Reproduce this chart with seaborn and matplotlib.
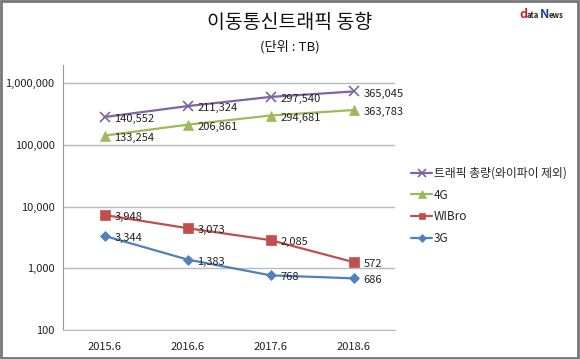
import numpy as np
import pandas as pd
import matplotlib
matplotlib.use("Agg")
import matplotlib.pyplot as plt
import seaborn as sns
from matplotlib.patches import Rectangle
from matplotlib.ticker import FixedLocator, FuncFormatter, NullLocator

# 데이터 (단위 : TB)
periodes = ["2015.6", "2016.6", "2017.6", "2018.6"]
val_3g = [3344, 1383, 768, 686]
val_wibro = [3948, 3073, 2085, 572]
val_4g = [133254, 206861, 294681, 363783]
val_total = [140552, 211324, 297540, 365045]

noms = ["3G", "WIBro", "4G", "트래픽 총량(와이파이 제외)"]
series = [val_3g, val_wibro, val_4g, val_total]
couleurs = ["#4F81BD", "#C0504D", "#9BBB59", "#8064A2"]
marqueurs = ["D", "s", "^", "x"]
tailles = [5.5, 6.5, 7, 7]

sns.set_style("white")
plt.rcParams['font.family'] = ['Noto Sans CJK KR', 'DejaVu Sans']

fig = plt.figure(figsize=(5.8, 3.59), dpi=100)
ax = fig.add_axes([63 / 580, 1 - 330 / 359, 332 / 580, 265 / 359])

x = np.arange(len(periodes))
# graphique en lignes empilées (comme dans Excel)
cumul = np.zeros(len(periodes))
for nom, vals, c, m, s in zip(noms, series, couleurs, marqueurs, tailles):
    cumul = cumul + np.array(vals)
    df = pd.DataFrame({"x": x, "y": cumul})
    sns.lineplot(data=df, x="x", y="y", ax=ax, color=c, marker=m, markersize=s,
                 markeredgecolor=c, markeredgewidth=1.2 if m == "x" else 0.5,
                 linewidth=1.6, label=nom)
    for xi, yi, v in zip(x, cumul, vals):
        ax.annotate(f"{v:,}", (xi, yi), xytext=(7, -1.5), textcoords="offset points",
                    fontsize=8, color="#222222", va="center", ha="left")

ax.set_yscale("log")
ax.set_ylim(100, 10 ** (6 + 18 / 61.75))
ax.set_xlim(-0.5, 3.5)
ax.yaxis.set_major_locator(FixedLocator([100, 1000, 10000, 100000, 1000000]))
ax.yaxis.set_minor_locator(NullLocator())
ax.yaxis.set_major_formatter(FuncFormatter(lambda v, p: f"{int(v):,}"))
ax.set_xticks(x)
ax.set_xticklabels(periodes)
ax.tick_params(axis="both", length=0, labelsize=8, colors="#222222")
ax.tick_params(axis="y", pad=6)
ax.tick_params(axis="x", pad=9)
ax.set_xlabel("")
ax.set_ylabel("")
ax.grid(axis="y", color="#BBBBBB", linewidth=1)
ax.grid(axis="x", visible=False)
for cote in ["top", "right"]:
    ax.spines[cote].set_visible(False)
ax.spines["left"].set_color("#999999")
ax.spines["bottom"].set_color("#BBBBBB")

# légende dans l'ordre inverse
h, l = ax.get_legend_handles_labels()
ax.legend(h[::-1], l[::-1], loc="center left", bbox_to_anchor=(411 / 580, 1 - 206 / 359),
          bbox_transform=fig.transFigure, frameon=False, fontsize=8.5, markerscale=0.75,
          handlelength=1.8, handletextpad=0.15, labelspacing=0.75, borderaxespad=0,
          borderpad=0)

fig.text(0.5, 1 - 22 / 359, "이동통신트래픽 동향", ha="center", va="center", fontsize=14, color="#111111")
fig.text(0.5, 1 - 47 / 359, "(단위 : TB)", ha="center", va="center", fontsize=9.5, color="#111111")

# logo dataNews
fig.text(519 / 580, 1 - 14 / 359, "d", ha="left", va="center", fontsize=9, color="#D0202A", fontweight="bold")
fig.text(527 / 580, 1 - 15 / 359, "ata", ha="left", va="center", fontsize=5.5, color="#222222", fontweight="bold")
fig.text(540 / 580, 1 - 14 / 359, "N", ha="left", va="center", fontsize=9, color="#1A3E8C", fontweight="bold")
fig.text(549 / 580, 1 - 15 / 359, "ews", ha="left", va="center", fontsize=5.5, color="#222222", fontweight="bold")

fig.patches.append(Rectangle((0.002, 0.003), 0.995, 0.994, transform=fig.transFigure,
                             fill=False, edgecolor="#777777", linewidth=2))

fig.savefig("out.png", dpi=100)
